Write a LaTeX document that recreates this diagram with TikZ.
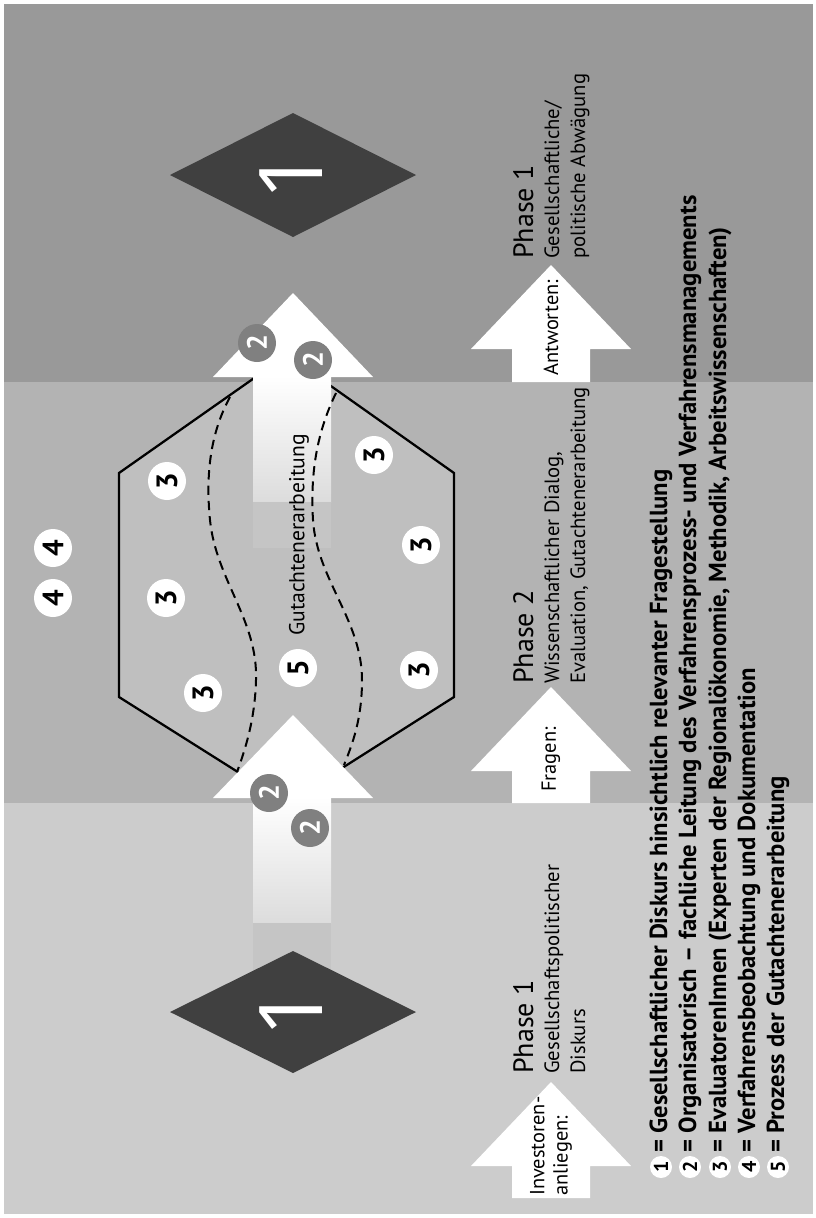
\documentclass[tikz,border=0pt]{standalone}
\usepackage{fontspec}
\setmainfont{PT Sans}
\newfontfamily\onefont{Open Sans}
\usetikzlibrary{positioning,shapes.geometric}
\definecolor{bandA}{HTML}{999999}
\definecolor{bandB}{HTML}{B3B3B3}
\definecolor{bandC}{HTML}{CCCCCC}
\definecolor{hexfill}{HTML}{BFBFBF}
\definecolor{diamfill}{HTML}{404040}
\definecolor{twofill}{HTML}{808080}
\definecolor{shaftend}{HTML}{DCDCDC}
\definecolor{shaftblock}{HTML}{C5C5C5}
\tikzset{font=\fontsize{15.3}{18}\selectfont}
\tikzstyle{rot}=[rotate=90,inner sep=0pt]
\tikzstyle{num}=[rot,circle,fill=white,minimum size=28.5pt,font=\fontsize{22}{22}\selectfont\bfseries]
\tikzstyle{numtwo}=[num,fill=twofill,text=white,font=\fontsize{21}{21}\selectfont\bfseries]
\tikzstyle{legnum}=[rot,circle,fill=white,minimum size=16.5pt,font=\fontsize{15}{15}\selectfont\bfseries]
\tikzstyle{legtxt}=[rot,anchor=west,font=\fontsize{18.5}{18.5}\selectfont\bfseries]
\tikzstyle{phase}=[rot,anchor=north west,align=left,font=\fontsize{15.5}{19.5}\selectfont]
\tikzstyle{arrlabel}=[rot,anchor=west,align=left,font=\fontsize{15.3}{17.5}\selectfont]
\tikzstyle{bigone}=[rot,text=white,font=\onefont\fontsize{66}{66}\selectfont]
\tikzstyle{hexline}=[draw=black,fill=hexfill,line width=1.7pt,line join=miter]
\tikzstyle{split}=[dashed,line width=1.5pt,dash pattern=on 7pt off 4.5pt]
\newcommand{\phasehead}[1]{{\fontsize{21}{22}\selectfont Phase #1}}
% white block arrow: centre x, tip y, foot y
\newcommand{\blockarrow}[3]{\fill[white] (#1,#2) -- (#1+80,#2+84) -- (#1+39,#2+84)
  -- (#1+39,#3) -- (#1-39,#3) -- (#1-39,#2+84) -- (#1-80,#2+84) -- cycle;}

\begin{document}
\begin{tikzpicture}[x=0.75pt,y=-0.75pt]
\useasboundingbox (0,0) rectangle (816,1218);
\fill[white] (0,0) rectangle (816,1218);
% bands
\fill[bandA] (4,4) rectangle (813,382);
\fill[bandB] (4,382) rectangle (813,803);
\fill[bandC] (4,803) rectangle (813,1214);

% phase 2: hexagon
\draw[hexline] (287,355) -- (454,473) -- (454,697) -- (287,803) -- (119,697) -- (119,473) -- cycle;

% central arrows
\fill[white] (293,293) -- (373,377) -- (213,377) -- cycle;
\shade[top color=white,bottom color=shaftend] (253,376) rectangle (331,502);
\fill[shaftblock] (253,502) rectangle (331,548);
\fill[white] (293,715) -- (373,798) -- (213,798) -- cycle;
\shade[top color=white,bottom color=shaftend] (253,797) rectangle (331,923);
\fill[shaftblock] (253,923) rectangle (331,1012);

\draw[split] (230,397) .. controls (212,430) and (205,470) .. (210,520)
  .. controls (216,580) and (258,620) .. (256,680) .. controls (255,720) and (245,750) .. (237,772);
\draw[split] (336,393) .. controls (318,430) and (310,470) .. (313,520)
  .. controls (317,580) and (362,620) .. (362,680) .. controls (362,720) and (352,745) .. (344,765);

\node[numtwo] (twoA) at (257,343) {2};
\node[numtwo] (twoB) at (313,360) {2};
\node[numtwo] (twoC) at (269,793) {2};
\node[numtwo] (twoD) at (310,828) {2};

% phase 1 diamonds
\fill[diamfill] (170,175) -- (293,113) -- (416,175) -- (293,237) -- cycle;
\node[bigone] (oneTop) at (291,175) {1};
\fill[diamfill] (170,1012) -- (293,951) -- (416,1012) -- (293,1073) -- cycle;
\node[bigone] (oneBot) at (291,1012) {1};

% evaluators, observers, process
\node[num] (threeA) at (167,481) {3};
\node[num] (threeB) at (166,598) {3};
\node[num] (threeC) at (203,693) {3};
\node[num] (threeD) at (374,455) {3};
\node[num] (threeE) at (421,545) {3};
\node[num] (threeF) at (419,670) {3};
\node[num] (fourA) at (53,548) {4};
\node[num] (fourB) at (53,598) {4};
\node[num] (five) at (298,668) {5};
\node[arrlabel,font=\fontsize{16.2}{18}\selectfont] (gutacht) at (299,636) {Gutachtenerarbeitung};

% questions and answers
\blockarrow{551}{265}{382}
\blockarrow{551}{687}{803}
\blockarrow{551}{1082}{1198}
\node[arrlabel] (antw) at (551,376) {Antworten:};
\node[arrlabel] (fragen) at (551,792) {Fragen:};
\node[arrlabel] (invest) at (551,1196) {Investoren-\\anliegen:};

\node[phase] (phaseTop) at (513,259) {\phasehead{1}\\Gesellschaftliche/\\politische Abwägung};
\node[phase] (phaseMid) at (513,684) {\phasehead{2}\\Wissenschaftlicher Dialog,\\Evaluation, Gutachtenerarbeitung};
\node[phase] (phaseBot) at (513,1074) {\phasehead{1}\\Gesellschaftspolitischer\\Diskurs};

% legend
\foreach \x/\n/\txt in {661/1/{Gesellschaftlicher Diskurs hinsichtlich relevanter Fragestellung},
  690/2/{Organisatorisch -- fachliche Leitung des Verfahrensprozess- und Verfahrensmanagements},
  720/3/{EvaluatorenInnen (Experten der Regionalökonomie, Methodik, Arbeitswissenschaften)},
  749/4/{Verfahrensbeobachtung und Dokumentation},
  778/5/{Prozess der Gutachtenerarbeitung}}{
  \node[legnum] (leg\n) at (\x,1167) {\n};
  \node[legtxt] (legtxt\n) at (\x,1153) {= \txt};
}
\end{tikzpicture}
\end{document}
